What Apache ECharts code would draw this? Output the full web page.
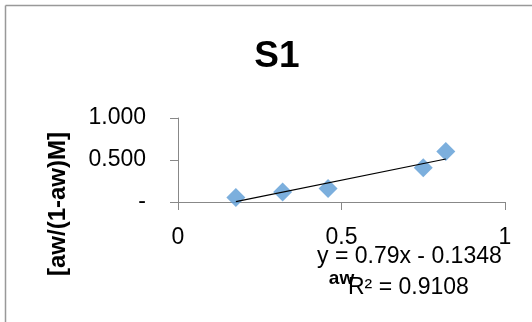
<!DOCTYPE html>
<html>
<head>
<meta charset="utf-8">
<script src="https://cdn.jsdelivr.net/npm/echarts@6/dist/echarts.min.js"></script>
<style>html,body{margin:0;padding:0;background:#fff}#c{width:532px;height:322px}</style>
</head>
<body>
<div id="c"></div>
<script>
const titleText = 'S1';
const xName = 'aw';
const yName = '[aw/(1-aw)M]';
const awValues = [0.177, 0.32, 0.459, 0.75, 0.819];
const yValues = [0.055, 0.12, 0.162, 0.408, 0.602];
const trendX = [0.177, 0.819];
const trendY = [0.005, 0.512];
const equationText = 'y = 0.79x - 0.1348';
const r2Text = 'R² = 0.9108';

const FONT = 'Liberation Sans';
const chart = echarts.init(document.getElementById('c'), null, {renderer: 'canvas'});
chart.setOption({
  animation: false,
  backgroundColor: '#fff',
  title: {
    text: titleText, left: 272, top: 33, textAlign: 'center',
    textStyle: {fontFamily: FONT, fontWeight: 'bold', fontSize: 37, color: '#000'}
  },
  grid: {left: 178, right: 27, top: 118, bottom: 120},
  xAxis: {
    type: 'value', min: 0, max: 1, interval: 0.5,
    name: xName, nameLocation: 'middle', nameGap: 67,
    nameTextStyle: {fontFamily: FONT, fontWeight: 'bold', fontSize: 19, color: '#000'},
    axisLine: {show: true, lineStyle: {color: '#888', width: 1}},
    axisTick: {show: true, length: 8, inside: false, lineStyle: {color: '#888'}},
    axisLabel: {fontFamily: FONT, fontSize: 23, color: '#000', margin: 24,
      formatter: v => String(v)},
    splitLine: {show: false}
  },
  yAxis: {
    type: 'value', min: 0, max: 1, interval: 0.5,
    axisLine: {show: true, lineStyle: {color: '#888', width: 1}},
    axisTick: {show: true, length: 8, lineStyle: {color: '#888'}},
    axisLabel: {fontFamily: FONT, fontSize: 23, color: '#000', margin: 32,
      formatter: v => v === 0 ? '-' : v.toFixed(3)},
    splitLine: {show: false}
  },
  series: [
    {
      type: 'line', data: trendX.map((x, i) => [x, trendY[i]]),
      symbol: 'none', lineStyle: {color: '#000', width: 1.2}, z: 3
    },
    {
      type: 'scatter', data: awValues.map((x, i) => [x, yValues[i]]),
      symbol: 'diamond', symbolSize: 19,
      itemStyle: {color: '#5B9BD5'}, z: 2
    }
  ],
  graphic: [
    {type: 'text', x: 58, y: 204, rotation: Math.PI / 2,
      style: {text: yName, font: 'bold 24px "Liberation Sans"', fill: '#000', align: 'center', verticalAlign: 'middle'}},
    {type: 'text', left: 317, top: 245, style: {text: equationText, font: '23px "Liberation Sans"', fill: '#000'}},
    {type: 'text', left: 348, top: 276, style: {text: r2Text, font: '23px "Liberation Sans"', fill: '#000'}},
    {type: 'line', shape: {x1: 5.5, y1: 5.5, x2: 532, y2: 5.5}, style: {stroke: '#999', lineWidth: 1.5}},
    {type: 'line', shape: {x1: 5.5, y1: 5.5, x2: 5.5, y2: 322}, style: {stroke: '#999', lineWidth: 1.5}}
  ]
});
</script>
</body>
</html>
